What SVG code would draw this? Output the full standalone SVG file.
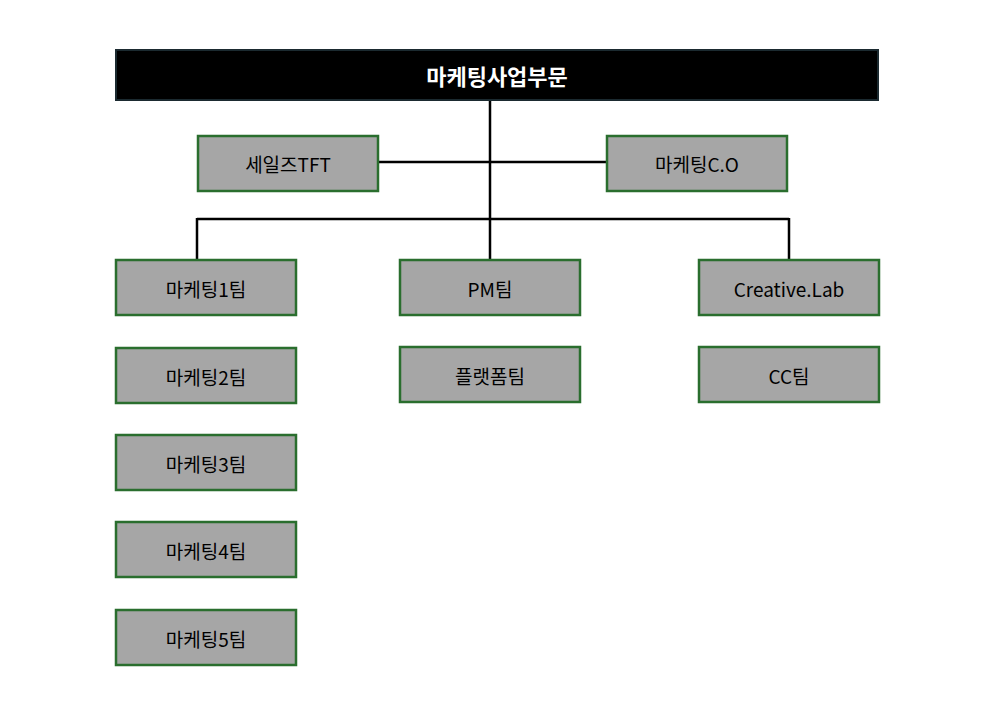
<svg xmlns="http://www.w3.org/2000/svg" width="991" height="706" viewBox="0 0 991 706">
<style>
.b{fill:#a6a6a6;stroke:#2a6e2e;stroke-width:2.5}
.t{font-family:"Noto Sans CJK KR","Noto Sans",sans-serif;font-size:19px;fill:#000;text-anchor:middle;dominant-baseline:central}
.c{stroke:#000;stroke-width:2.5;fill:none}
</style>
<rect width="991" height="706" fill="#fff"/>
<g id="connectors">
<path class="c" d="M490 100V219M378 162H607M197 219H789M197 218V260M490 219V260M789 218V260"/>
</g>
<g id="top"><rect x="116" y="50" width="762" height="50" fill="#000" stroke="#1b2a30" stroke-width="2"/><text class="t" x="497" y="75" style="fill:#fff;font-size:22px;font-weight:bold">마케팅사업부문</text></g>
<g id="sales"><rect class="b" x="198" y="136" width="180" height="55"/><text class="t" x="288" y="163">세일즈TFT</text></g>
<g id="mco"><rect class="b" x="607" y="136" width="180" height="55"/><text class="t" x="697" y="163">마케팅C.O</text></g>
<g id="m1"><rect class="b" x="116" y="260" width="180" height="55"/><text class="t" x="206" y="288">마케팅1팀</text></g>
<g id="pm"><rect class="b" x="400" y="260" width="180" height="55"/><text class="t" x="490" y="288">PM팀</text></g>
<g id="cl"><rect class="b" x="699" y="260" width="180" height="55"/><text class="t" x="789" y="288">Creative.Lab</text></g>
<g id="m2"><rect class="b" x="116" y="348" width="180" height="55"/><text class="t" x="206" y="376">마케팅2팀</text></g>
<g id="pf"><rect class="b" x="400" y="347" width="180" height="55"/><text class="t" x="490" y="375">플랫폼팀</text></g>
<g id="cc"><rect class="b" x="699" y="347" width="180" height="55"/><text class="t" x="789" y="375">CC팀</text></g>
<g id="m3"><rect class="b" x="116" y="435" width="180" height="55"/><text class="t" x="206" y="463">마케팅3팀</text></g>
<g id="m4"><rect class="b" x="116" y="522" width="180" height="55"/><text class="t" x="206" y="550">마케팅4팀</text></g>
<g id="m5"><rect class="b" x="116" y="610" width="180" height="55"/><text class="t" x="206" y="638">마케팅5팀</text></g>
</svg>
